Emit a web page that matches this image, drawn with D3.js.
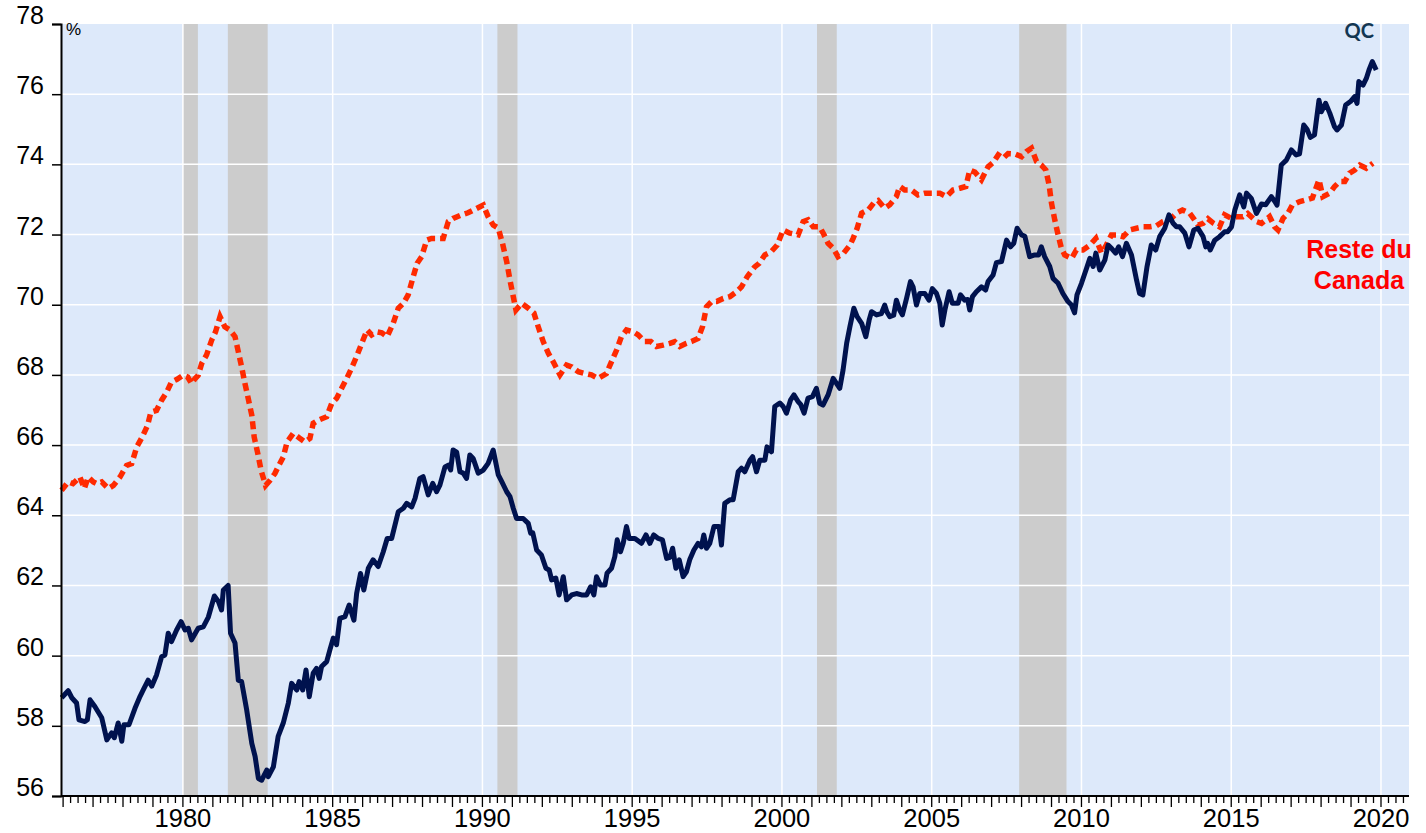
<!DOCTYPE html>
<html>
<head>
<meta charset="utf-8">
<script src="https://cdn.jsdelivr.net/npm/d3@7/dist/d3.min.js"></script>
<style>
  html, body { margin: 0; padding: 0; background: #fff; }
  svg { display: block; }
  .tick-label { font-family: Arial, 'Liberation Sans', sans-serif; fill: #000; }
</style>
</head>
<body>
<div id="chart"></div>
<script>
// Taux d'emploi des 25-54 ans, QC vs reste du Canada (%)
const qcData = [
  [1975.95, 58.8], [1976.17, 59.0], [1976.29, 58.8], [1976.45, 58.65], [1976.53, 58.17], [1976.73, 58.12],
  [1976.81, 58.17], [1976.90, 58.74], [1977.06, 58.55], [1977.29, 58.23], [1977.46, 57.6], [1977.62, 57.8],
  [1977.71, 57.66], [1977.84, 58.08], [1977.96, 57.56], [1978.03, 58.03], [1978.20, 58.03], [1978.40, 58.5],
  [1978.57, 58.84], [1978.68, 59.03], [1978.84, 59.3], [1978.96, 59.13], [1979.12, 59.45], [1979.29, 59.97],
  [1979.40, 60.02], [1979.51, 60.64], [1979.62, 60.4], [1979.79, 60.73], [1979.94, 60.97], [1980.07, 60.73],
  [1980.18, 60.78], [1980.29, 60.45], [1980.51, 60.78], [1980.68, 60.82], [1980.85, 61.1], [1981.05, 61.7],
  [1981.18, 61.55], [1981.29, 61.3], [1981.35, 61.87], [1981.51, 62.0], [1981.59, 60.64], [1981.74, 60.36],
  [1981.85, 59.3], [1981.96, 59.26], [1982.13, 58.45], [1982.30, 57.5], [1982.41, 57.13], [1982.52, 56.5],
  [1982.63, 56.45], [1982.80, 56.74], [1982.85, 56.55], [1983.02, 56.83], [1983.18, 57.7], [1983.35, 58.08],
  [1983.52, 58.65], [1983.63, 59.21], [1983.80, 59.02], [1983.88, 59.26], [1984.00, 59.02], [1984.11, 59.59],
  [1984.22, 58.83], [1984.35, 59.5], [1984.46, 59.64], [1984.55, 59.35], [1984.63, 59.69], [1984.80, 59.83],
  [1984.91, 60.17], [1985.02, 60.5], [1985.13, 60.31], [1985.24, 61.06], [1985.41, 61.11], [1985.55, 61.44],
  [1985.71, 61.01], [1985.80, 61.77], [1985.93, 62.34], [1986.04, 61.87], [1986.19, 62.49], [1986.35, 62.73],
  [1986.52, 62.54], [1986.69, 62.96], [1986.82, 63.34], [1986.97, 63.34], [1987.19, 64.1], [1987.36, 64.2],
  [1987.47, 64.34], [1987.64, 64.24], [1987.75, 64.48], [1987.91, 65.05], [1988.02, 65.1], [1988.19, 64.58],
  [1988.34, 64.91], [1988.47, 64.67], [1988.58, 64.86], [1988.75, 65.38], [1988.86, 65.43], [1988.94, 65.29],
  [1989.02, 65.86], [1989.14, 65.8], [1989.25, 65.24], [1989.36, 65.2], [1989.47, 65.05], [1989.58, 65.72],
  [1989.69, 65.62], [1989.86, 65.2], [1990.03, 65.29], [1990.19, 65.48], [1990.36, 65.86], [1990.53, 65.15],
  [1990.65, 64.95], [1990.81, 64.67], [1990.92, 64.53], [1991.03, 64.2], [1991.14, 63.91], [1991.36, 63.91],
  [1991.53, 63.77], [1991.61, 63.49], [1991.68, 63.5], [1991.81, 63.01], [1991.97, 62.87], [1992.12, 62.49],
  [1992.23, 62.44], [1992.31, 62.16], [1992.45, 62.21], [1992.56, 61.73], [1992.70, 62.25], [1992.81, 61.59],
  [1992.98, 61.73], [1993.14, 61.77], [1993.31, 61.73], [1993.48, 61.73], [1993.61, 61.96], [1993.72, 61.73],
  [1993.81, 62.25], [1993.94, 62.01], [1994.09, 62.01], [1994.16, 62.35], [1994.31, 62.49], [1994.42, 62.82],
  [1994.50, 63.3], [1994.61, 62.96], [1994.70, 63.2], [1994.81, 63.68], [1994.90, 63.34], [1995.09, 63.34],
  [1995.31, 63.2], [1995.46, 63.44], [1995.59, 63.2], [1995.72, 63.44], [1995.87, 63.34], [1996.01, 63.3],
  [1996.15, 62.77], [1996.26, 62.8], [1996.35, 63.06], [1996.46, 62.49], [1996.57, 62.73], [1996.70, 62.25],
  [1996.81, 62.39], [1996.92, 62.73], [1997.06, 63.01], [1997.20, 63.2], [1997.31, 63.1], [1997.39, 63.44],
  [1997.48, 63.06], [1997.59, 63.2], [1997.73, 63.68], [1997.90, 63.68], [1997.98, 63.15], [1998.09, 64.34],
  [1998.26, 64.44], [1998.37, 64.44], [1998.54, 65.24], [1998.65, 65.34], [1998.76, 65.24], [1998.93, 65.57],
  [1999.02, 65.67], [1999.15, 65.24], [1999.26, 65.57], [1999.43, 65.57], [1999.50, 65.95], [1999.65, 65.81],
  [1999.76, 67.1], [1999.93, 67.2], [2000.04, 67.1], [2000.15, 66.91], [2000.29, 67.29], [2000.40, 67.43],
  [2000.54, 67.24], [2000.63, 67.15], [2000.74, 66.91], [2000.87, 67.34], [2001.02, 67.38], [2001.15, 67.62],
  [2001.26, 67.19], [2001.37, 67.14], [2001.54, 67.43], [2001.71, 67.9], [2001.82, 67.76], [2001.93, 67.62],
  [2002.04, 68.14], [2002.16, 68.9], [2002.27, 69.38], [2002.40, 69.9], [2002.51, 69.66], [2002.66, 69.47],
  [2002.80, 69.09], [2002.91, 69.56], [2002.99, 69.8], [2003.16, 69.71], [2003.32, 69.75], [2003.43, 69.99],
  [2003.50, 69.8], [2003.60, 69.66], [2003.73, 69.7], [2003.82, 70.13], [2003.93, 69.85], [2004.02, 69.71],
  [2004.16, 70.18], [2004.29, 70.66], [2004.38, 70.5], [2004.49, 69.99], [2004.60, 70.32], [2004.77, 70.32],
  [2004.91, 70.13], [2005.02, 70.46], [2005.16, 70.32], [2005.27, 70.04], [2005.35, 69.42], [2005.44, 69.85],
  [2005.58, 70.37], [2005.69, 70.04], [2005.88, 70.04], [2005.96, 70.28], [2006.10, 70.13], [2006.20, 70.15],
  [2006.27, 69.85], [2006.36, 70.23], [2006.49, 70.37], [2006.66, 70.51], [2006.80, 70.42], [2006.88, 70.66],
  [2007.05, 70.85], [2007.16, 71.2], [2007.33, 71.23], [2007.50, 71.84], [2007.63, 71.65], [2007.74, 71.75],
  [2007.85, 72.18], [2008.00, 71.99], [2008.11, 71.95], [2008.27, 71.37], [2008.44, 71.42], [2008.57, 71.42],
  [2008.66, 71.65], [2008.77, 71.37], [2008.94, 71.09], [2009.05, 70.75], [2009.22, 70.61], [2009.38, 70.32],
  [2009.55, 70.09], [2009.66, 70.0], [2009.77, 69.77], [2009.85, 70.28], [2010.00, 70.61], [2010.17, 71.04],
  [2010.28, 71.32], [2010.39, 71.09], [2010.48, 71.47], [2010.61, 70.99], [2010.78, 71.27], [2010.89, 71.7],
  [2011.01, 71.6], [2011.14, 71.47], [2011.24, 71.65], [2011.37, 71.37], [2011.50, 71.75], [2011.67, 71.42],
  [2011.84, 70.7], [2011.94, 70.32], [2012.05, 70.28], [2012.19, 71.09], [2012.33, 71.7], [2012.48, 71.56],
  [2012.61, 71.94], [2012.78, 72.18], [2012.92, 72.56], [2013.06, 72.32], [2013.17, 72.22], [2013.28, 72.22],
  [2013.45, 72.04], [2013.59, 71.65], [2013.75, 72.13], [2013.89, 72.18], [2014.06, 71.94], [2014.15, 71.65],
  [2014.21, 71.75], [2014.30, 71.56], [2014.45, 71.84], [2014.61, 71.94], [2014.78, 72.08], [2014.88, 72.08],
  [2015.01, 72.22], [2015.12, 72.7], [2015.28, 73.13], [2015.42, 72.79], [2015.51, 73.18], [2015.67, 73.03],
  [2015.84, 72.6], [2016.01, 72.87], [2016.15, 72.85], [2016.34, 73.08], [2016.45, 72.95], [2016.53, 72.84],
  [2016.67, 73.98], [2016.84, 74.12], [2017.01, 74.41], [2017.17, 74.27], [2017.28, 74.3], [2017.42, 75.12],
  [2017.53, 75.0], [2017.64, 74.77], [2017.78, 74.84], [2017.93, 75.83], [2018.01, 75.5], [2018.15, 75.74],
  [2018.29, 75.46], [2018.45, 75.07], [2018.53, 74.98], [2018.68, 75.12], [2018.82, 75.69], [2018.98, 75.79],
  [2019.12, 75.93], [2019.20, 75.74], [2019.26, 76.36], [2019.40, 76.26], [2019.51, 76.45], [2019.60, 76.69],
  [2019.71, 76.93], [2019.84, 76.69]
]

const rocData = [
  [1975.95, 64.71], [1976.17, 64.95], [1976.33, 64.9], [1976.56, 65.09], [1976.71, 64.76], [1976.84, 65.09],
  [1977.01, 64.95], [1977.13, 64.9], [1977.29, 64.95], [1977.51, 64.76], [1977.68, 64.85], [1977.90, 65.09],
  [1978.12, 65.42], [1978.29, 65.47], [1978.46, 65.95], [1978.64, 66.23], [1978.82, 66.56], [1978.93, 66.94],
  [1979.12, 66.99], [1979.29, 67.28], [1979.46, 67.51], [1979.62, 67.8], [1979.79, 67.87], [1980.01, 67.99],
  [1980.16, 67.94], [1980.29, 67.75], [1980.40, 67.89], [1980.51, 67.99], [1980.63, 68.33], [1980.79, 68.57],
  [1980.96, 68.99], [1981.09, 69.23], [1981.24, 69.66], [1981.40, 69.37], [1981.57, 69.28], [1981.74, 69.09],
  [1981.85, 68.66], [1981.96, 68.23], [1982.07, 67.76], [1982.18, 67.33], [1982.30, 66.85], [1982.38, 66.23],
  [1982.50, 65.76], [1982.61, 65.28], [1982.76, 64.85], [1982.91, 65.0], [1983.07, 65.19], [1983.21, 65.43],
  [1983.35, 65.66], [1983.48, 66.09], [1983.68, 66.33], [1983.91, 66.19], [1984.07, 66.09], [1984.24, 66.19],
  [1984.35, 66.62], [1984.52, 66.71], [1984.80, 66.81], [1984.97, 67.19], [1985.13, 67.33], [1985.30, 67.62],
  [1985.47, 67.9], [1985.63, 68.19], [1985.82, 68.57], [1985.97, 68.9], [1986.15, 69.28], [1986.30, 69.14],
  [1986.47, 69.23], [1986.64, 69.2], [1986.82, 69.09], [1987.02, 69.47], [1987.19, 69.9], [1987.36, 70.04],
  [1987.52, 70.28], [1987.69, 70.8], [1987.82, 71.18], [1987.97, 71.37], [1988.14, 71.84], [1988.30, 71.89],
  [1988.48, 71.89], [1988.69, 71.89], [1988.86, 72.37], [1989.02, 72.46], [1989.30, 72.56], [1989.52, 72.62],
  [1989.75, 72.72], [1990.03, 72.84], [1990.19, 72.51], [1990.36, 72.27], [1990.53, 72.18], [1990.67, 71.75],
  [1990.81, 71.23], [1990.92, 70.7], [1991.03, 70.23], [1991.12, 69.85], [1991.31, 70.04], [1991.53, 69.9],
  [1991.72, 69.76], [1991.86, 69.38], [1992.03, 68.95], [1992.20, 68.62], [1992.36, 68.38], [1992.59, 68.0],
  [1992.81, 68.28], [1992.98, 68.23], [1993.20, 68.09], [1993.42, 68.04], [1993.64, 68.0], [1993.86, 67.9],
  [1994.14, 68.04], [1994.31, 68.38], [1994.48, 68.71], [1994.64, 69.09], [1994.81, 69.28], [1995.03, 69.23],
  [1995.20, 69.14], [1995.42, 68.95], [1995.62, 68.95], [1995.81, 68.81], [1996.03, 68.85], [1996.26, 68.9],
  [1996.42, 68.95], [1996.59, 68.81], [1996.81, 68.9], [1996.98, 68.95], [1997.20, 69.04], [1997.35, 69.38],
  [1997.48, 69.94], [1997.65, 70.09], [1997.82, 70.09], [1998.04, 70.18], [1998.26, 70.23], [1998.48, 70.37],
  [1998.65, 70.51], [1998.84, 70.8], [1999.09, 71.08], [1999.24, 71.18], [1999.43, 71.42], [1999.63, 71.5],
  [1999.84, 71.7], [2000.04, 72.13], [2000.26, 72.04], [2000.54, 71.99], [2000.71, 72.37], [2000.87, 72.42],
  [2001.04, 72.22], [2001.26, 72.22], [2001.40, 72.0], [2001.54, 71.75], [2001.71, 71.61], [2001.87, 71.37],
  [2002.06, 71.47], [2002.27, 71.7], [2002.38, 71.9], [2002.51, 72.18], [2002.66, 72.61], [2002.88, 72.7],
  [2003.10, 72.94], [2003.21, 72.97], [2003.43, 72.75], [2003.60, 72.85], [2003.82, 73.08], [2003.93, 73.37],
  [2004.10, 73.27], [2004.32, 73.27], [2004.54, 73.13], [2004.77, 73.18], [2005.02, 73.18], [2005.27, 73.18],
  [2005.49, 73.08], [2005.71, 73.27], [2005.94, 73.32], [2006.14, 73.37], [2006.27, 73.84], [2006.44, 73.78],
  [2006.66, 73.56], [2006.88, 73.93], [2007.05, 74.05], [2007.22, 74.27], [2007.38, 74.17], [2007.55, 74.31],
  [2007.77, 74.3], [2008.00, 74.22], [2008.16, 74.36], [2008.33, 74.46], [2008.50, 74.08], [2008.66, 73.98],
  [2008.81, 73.84], [2008.92, 73.41], [2009.00, 72.89], [2009.11, 72.41], [2009.22, 71.99], [2009.33, 71.61],
  [2009.44, 71.42], [2009.67, 71.32], [2009.83, 71.56], [2010.05, 71.56], [2010.28, 71.7], [2010.48, 71.89],
  [2010.67, 71.47], [2010.83, 71.7], [2011.00, 71.99], [2011.18, 71.99], [2011.39, 71.94], [2011.61, 72.13],
  [2011.84, 72.18], [2012.06, 72.22], [2012.28, 72.22], [2012.50, 72.25], [2012.72, 72.37], [2013.00, 72.46],
  [2013.17, 72.61], [2013.37, 72.7], [2013.61, 72.61], [2013.75, 72.45], [2013.89, 72.27], [2014.06, 72.32],
  [2014.22, 72.45], [2014.41, 72.32], [2014.61, 72.22], [2014.78, 72.56], [2015.01, 72.46], [2015.17, 72.51],
  [2015.39, 72.51], [2015.55, 72.6], [2015.84, 72.37], [2016.01, 72.32], [2016.28, 72.51], [2016.45, 72.22],
  [2016.56, 72.13], [2016.73, 72.46], [2016.89, 72.6], [2017.04, 72.84], [2017.29, 72.94], [2017.51, 72.99],
  [2017.71, 73.04], [2017.93, 73.56], [2018.06, 73.08], [2018.29, 73.18], [2018.45, 73.37], [2018.62, 73.51],
  [2018.79, 73.51], [2018.95, 73.75], [2019.12, 73.84], [2019.29, 73.98], [2019.51, 73.89], [2019.73, 74.03]
]

// récessions (début, fin) en années décimales
const recessions = [
  [1980.0, 1980.5],
  [1981.5, 1982.83],
  [1990.5, 1991.17],
  [2001.17, 2001.83],
  [2007.92, 2009.5],
]

const yTicks = [56, 58, 60, 62, 64, 66, 68, 70, 72, 74, 76, 78]
const xLabelYears = [1980, 1985, 1990, 1995, 2000, 2005, 2010, 2015, 2020]

const width = 1426
const height = 833
const margin = { top: 24, right: 17, bottom: 37, left: 61 }
const innerW = width - margin.left - margin.right
const innerH = height - margin.top - margin.bottom

const svg = d3.select('#chart').append('svg').attr('width', width).attr('height', height)

const x = d3.scaleLinear().domain([1975.93, 2020.935]).range([margin.left, width - margin.right])
const y = d3.scaleLinear().domain([56, 78]).range([height - margin.bottom, margin.top])

// fond
svg.append('rect')
  .attr('x', margin.left).attr('y', margin.top)
  .attr('width', innerW).attr('height', innerH)
  .attr('fill', '#dde9fa')

// bandes de récession
svg.append('g').selectAll('rect').data(recessions).join('rect')
  .attr('x', (d) => x(d[0]))
  .attr('width', (d) => x(d[1]) - x(d[0]))
  .attr('y', margin.top)
  .attr('height', innerH)
  .attr('fill', '#cccccc')

// grille
const grid = svg.append('g').attr('stroke', '#fff').attr('stroke-width', 1.5)
grid.selectAll('line.h').data(yTicks.slice(1, -1)).join('line').attr('class', 'h')
  .attr('x1', margin.left).attr('x2', width - margin.right)
  .attr('y1', (d) => y(d)).attr('y2', (d) => y(d))
grid.selectAll('line.v').data(xLabelYears).join('line').attr('class', 'v')
  .attr('y1', margin.top).attr('y2', height - margin.bottom)
  .attr('x1', (d) => x(d)).attr('x2', (d) => x(d))

// séries
const line = d3.line().x((d) => x(d[0])).y((d) => y(d[1]))

svg.append('path')
  .datum(rocData)
  .attr('fill', 'none')
  .attr('stroke', '#ff2a00')
  .attr('stroke-width', 5.5)
  .attr('stroke-dasharray', '8,5')
  .attr('d', line)

svg.append('path')
  .datum(qcData)
  .attr('fill', 'none')
  .attr('stroke', '#00124e')
  .attr('stroke-width', 5)
  .attr('stroke-linejoin', 'round')
  .attr('d', line)

// axe Y
const yAxis = svg.append('g').attr('transform', `translate(${margin.left},0)`)
  .call(d3.axisLeft(y).tickValues(yTicks).tickSize(9).tickPadding(8).tickFormat(d3.format('d')))
yAxis.select('.domain').attr('stroke', '#000').attr('stroke-width', 2)
yAxis.selectAll('.tick line').attr('stroke', '#000').attr('stroke-width', 1.5)
yAxis.selectAll('.tick text')
  .attr('class', 'tick-label')
  .attr('dy', '-0.02em')
  .style('font-size', '25px')

// axe X : trimestres + années
const quarterTicks = d3.range(1976, 2021, 0.25)
const xAxisG = svg.append('g').attr('transform', `translate(0,${height - margin.bottom})`)
xAxisG.append('line')
  .attr('x1', margin.left).attr('x2', width - margin.right)
  .attr('stroke', '#000').attr('stroke-width', 2)
xAxisG.selectAll('line.q').data(quarterTicks).join('line').attr('class', 'q')
  .attr('x1', (d) => x(d)).attr('x2', (d) => x(d))
  .attr('y1', 1).attr('y2', (d) => (Number.isInteger(d) ? 11 : 7))
  .attr('stroke', '#000').attr('stroke-width', 1.3)
xAxisG.selectAll('text').data(xLabelYears).join('text')
  .attr('class', 'tick-label')
  .attr('x', (d) => x(d))
  .attr('y', 31)
  .attr('text-anchor', 'middle')
  .style('font-size', '25.5px')
  .text((d) => d)

// unité
svg.append('text')
  .attr('class', 'tick-label')
  .attr('x', 66).attr('y', 35)
  .style('font-size', '17px')
  .text('%')

// étiquettes des séries
svg.append('text')
  .attr('x', 1374).attr('y', 38)
  .attr('text-anchor', 'end')
  .attr('fill', '#123652')
  .style('font-family', "Lato, 'Open Sans', sans-serif")
  .style('font-weight', 'bold')
  .style('font-size', '20px')
  .text('QC')

const rocLabel = svg.append('text')
  .attr('text-anchor', 'middle')
  .attr('fill', '#ff0000')
  .style('font-family', "Arial, 'Liberation Sans', sans-serif")
  .style('font-weight', 'bold')
  .style('font-size', '25px')
rocLabel.append('tspan').attr('x', 1359).attr('y', 258).text('Reste du')
rocLabel.append('tspan').attr('x', 1359).attr('y', 289).text('Canada')
</script>
</body>
</html>
